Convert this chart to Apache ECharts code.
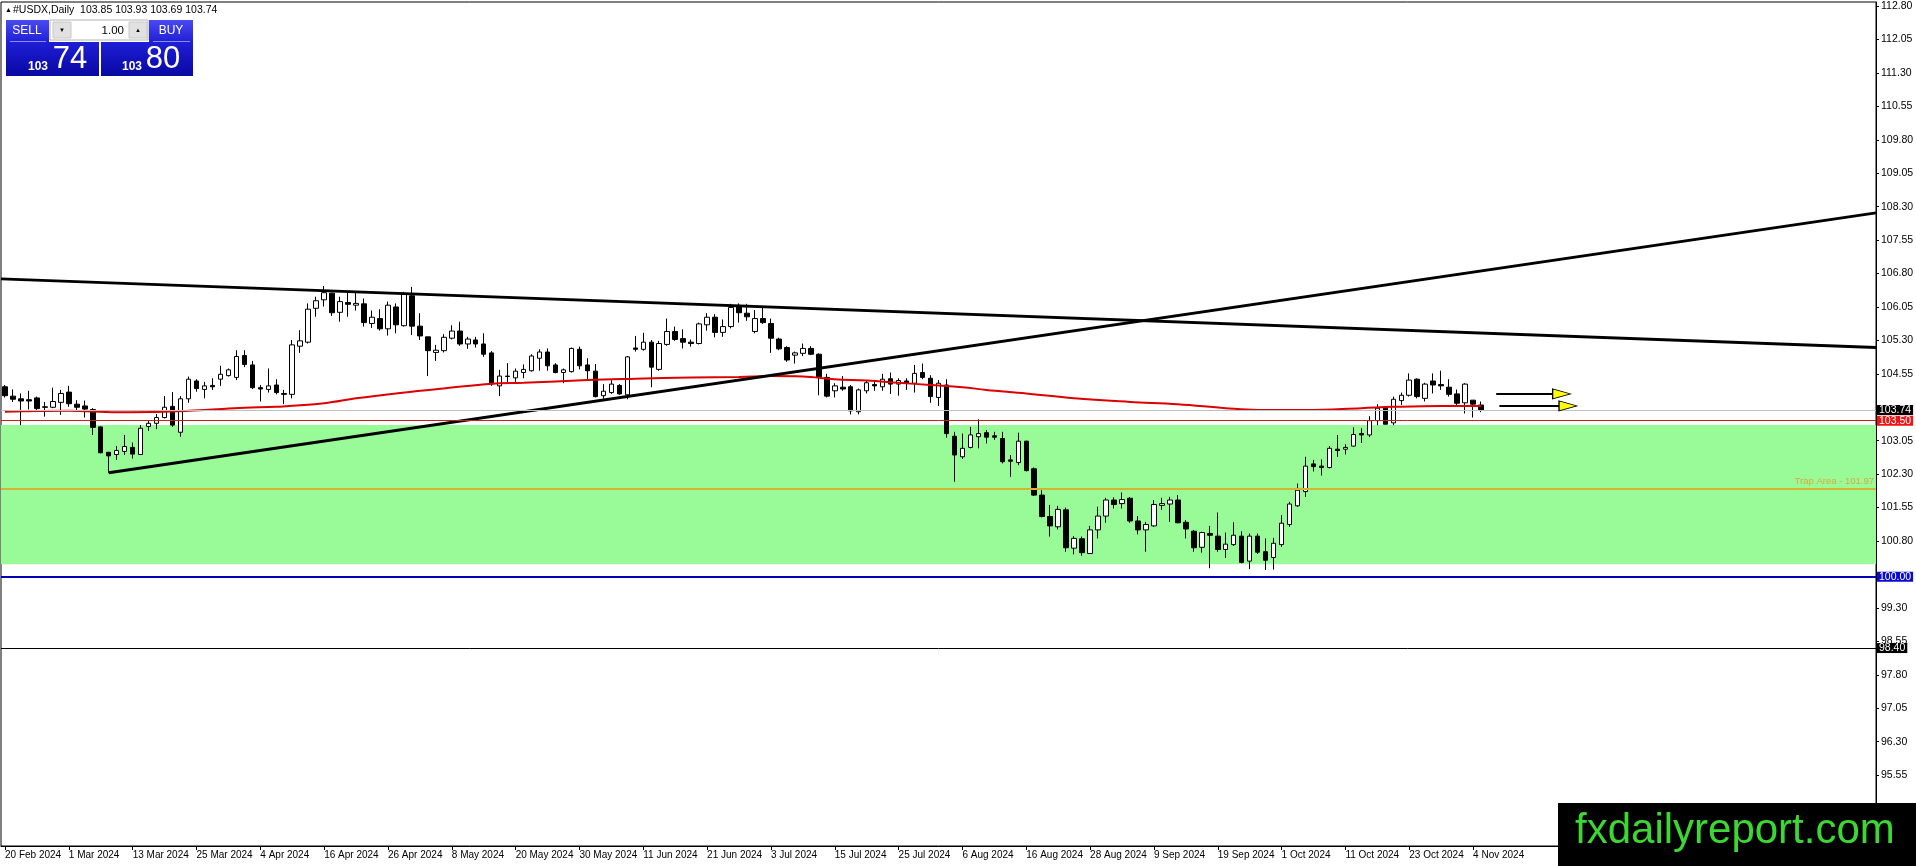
<!DOCTYPE html>
<html><head><meta charset="utf-8">
<script src="https://cdn.jsdelivr.net/npm/echarts@6/dist/echarts.min.js"></script>
<style>html,body{margin:0;padding:0;background:#fff}#c{width:1916px;height:866px}</style>
</head><body><div id="c"></div>
<script>
const FONT = '"Liberation Sans", Arial, sans-serif';

const dates = [
'20 Feb 2024','21 Feb 2024','22 Feb 2024','23 Feb 2024','26 Feb 2024','27 Feb 2024','28 Feb 2024','29 Feb 2024',
'1 Mar 2024','4 Mar 2024','5 Mar 2024','6 Mar 2024','7 Mar 2024','8 Mar 2024','11 Mar 2024','12 Mar 2024','13 Mar 2024','14 Mar 2024','15 Mar 2024','18 Mar 2024','19 Mar 2024','20 Mar 2024','21 Mar 2024','22 Mar 2024','25 Mar 2024','26 Mar 2024','27 Mar 2024','28 Mar 2024','29 Mar 2024',
'1 Apr 2024','2 Apr 2024','3 Apr 2024','4 Apr 2024','5 Apr 2024','8 Apr 2024','9 Apr 2024','10 Apr 2024','11 Apr 2024','12 Apr 2024','15 Apr 2024','16 Apr 2024','17 Apr 2024','18 Apr 2024','19 Apr 2024','22 Apr 2024','23 Apr 2024','24 Apr 2024','25 Apr 2024','26 Apr 2024','29 Apr 2024','30 Apr 2024',
'1 May 2024','2 May 2024','3 May 2024','6 May 2024','7 May 2024','8 May 2024','9 May 2024','10 May 2024','13 May 2024','14 May 2024','15 May 2024','16 May 2024','17 May 2024','20 May 2024','21 May 2024','22 May 2024','23 May 2024','24 May 2024','27 May 2024','28 May 2024','29 May 2024','30 May 2024','31 May 2024',
'3 Jun 2024','4 Jun 2024','5 Jun 2024','6 Jun 2024','7 Jun 2024','10 Jun 2024','11 Jun 2024','12 Jun 2024','13 Jun 2024','14 Jun 2024','17 Jun 2024','18 Jun 2024','19 Jun 2024','20 Jun 2024','21 Jun 2024','24 Jun 2024','25 Jun 2024','26 Jun 2024','27 Jun 2024','28 Jun 2024',
'1 Jul 2024','2 Jul 2024','3 Jul 2024','4 Jul 2024','5 Jul 2024','8 Jul 2024','9 Jul 2024','10 Jul 2024','11 Jul 2024','12 Jul 2024','15 Jul 2024','16 Jul 2024','17 Jul 2024','18 Jul 2024','19 Jul 2024','22 Jul 2024','23 Jul 2024','24 Jul 2024','25 Jul 2024','26 Jul 2024','29 Jul 2024','30 Jul 2024','31 Jul 2024',
'1 Aug 2024','2 Aug 2024','5 Aug 2024','6 Aug 2024','7 Aug 2024','8 Aug 2024','9 Aug 2024','12 Aug 2024','13 Aug 2024','14 Aug 2024','15 Aug 2024','16 Aug 2024','19 Aug 2024','20 Aug 2024','21 Aug 2024','22 Aug 2024','23 Aug 2024','26 Aug 2024','27 Aug 2024','28 Aug 2024','29 Aug 2024','30 Aug 2024',
'2 Sep 2024','3 Sep 2024','4 Sep 2024','5 Sep 2024','6 Sep 2024','9 Sep 2024','10 Sep 2024','11 Sep 2024','12 Sep 2024','13 Sep 2024','16 Sep 2024','17 Sep 2024','18 Sep 2024','19 Sep 2024','20 Sep 2024','23 Sep 2024','24 Sep 2024','25 Sep 2024','26 Sep 2024','27 Sep 2024','30 Sep 2024',
'1 Oct 2024','2 Oct 2024','3 Oct 2024','4 Oct 2024','7 Oct 2024','8 Oct 2024','9 Oct 2024','10 Oct 2024','11 Oct 2024','14 Oct 2024','15 Oct 2024','16 Oct 2024','17 Oct 2024','18 Oct 2024','21 Oct 2024','22 Oct 2024','23 Oct 2024','24 Oct 2024','25 Oct 2024','28 Oct 2024','29 Oct 2024','30 Oct 2024','31 Oct 2024',
'1 Nov 2024','4 Nov 2024','5 Nov 2024'
];

// [open, high, low, close]
const candles = [
[104.26,104.30,104.02,104.06],[104.05,104.20,103.92,103.98],[103.99,104.11,103.40,103.94],[103.97,104.17,103.75,103.94],
[104.01,104.04,103.74,103.77],[103.81,103.92,103.59,103.80],[103.80,104.24,103.78,103.93],[103.91,104.19,103.63,104.11],
[104.14,104.28,103.81,103.88],[103.87,103.96,103.70,103.80],[103.83,103.95,103.57,103.76],[103.75,103.78,103.18,103.35],
[103.36,103.37,102.77,102.78],[102.79,102.80,102.33,102.71],[102.74,102.93,102.62,102.83],[102.81,103.18,102.73,102.92],
[102.90,103.01,102.65,102.75],[102.74,103.40,102.73,103.33],[103.37,103.51,103.27,103.44],[103.44,103.65,103.31,103.57],
[103.57,104.05,103.55,103.80],[103.82,104.14,103.36,103.40],[103.24,104.05,103.14,103.99],[103.99,104.49,103.90,104.43],
[104.39,104.43,104.15,104.22],[104.20,104.37,104.00,104.28],[104.29,104.45,104.19,104.26],[104.43,104.73,104.28,104.54],
[104.51,104.67,104.49,104.64],[104.47,105.08,104.41,104.94],[104.96,105.08,104.70,104.76],[104.75,104.84,104.21,104.24],
[104.24,104.30,103.93,104.21],[104.20,104.67,104.13,104.28],[104.30,104.43,104.09,104.13],[104.11,104.19,103.87,104.09],
[104.09,105.31,104.00,105.20],[105.17,105.53,105.02,105.29],[105.26,106.13,105.23,106.00],[106.02,106.28,105.83,106.19],
[106.21,106.52,106.06,106.37],[106.36,106.37,105.85,105.92],[105.93,106.28,105.72,106.17],[106.15,106.37,105.83,106.11],
[106.09,106.37,105.97,106.13],[106.12,106.24,105.61,105.70],[105.68,105.97,105.58,105.82],[105.79,106.00,105.52,105.56],
[105.56,106.17,105.41,106.09],[106.05,106.13,105.46,105.65],[105.63,106.39,105.61,106.33],[106.30,106.50,105.42,105.62],
[105.62,105.91,105.31,105.40],[105.38,105.38,104.50,105.07],[105.03,105.20,104.84,105.08],[105.07,105.44,105.03,105.37],
[105.35,105.64,105.32,105.51],[105.51,105.72,105.18,105.22],[105.22,105.38,105.11,105.33],[105.31,105.38,105.14,105.22],
[105.22,105.46,104.93,104.99],[105.02,105.06,104.28,104.32],[104.28,104.64,104.05,104.50],[104.49,104.79,104.37,104.50],
[104.46,104.67,104.37,104.61],[104.58,104.76,104.45,104.65],[104.62,104.99,104.60,104.95],[104.90,105.10,104.62,105.04],
[105.04,105.12,104.62,104.73],[104.75,104.79,104.56,104.58],[104.58,104.67,104.34,104.64],[104.60,105.14,104.58,105.12],
[105.10,105.16,104.65,104.73],[104.75,104.90,104.39,104.62],[104.61,104.77,104.02,104.04],[104.06,104.32,103.99,104.16],
[104.13,104.41,104.10,104.32],[104.29,104.32,104.08,104.10],[104.08,104.95,103.98,104.93],[105.13,105.40,105.05,105.10],
[105.10,105.47,105.07,105.26],[105.26,105.31,104.25,104.70],[104.65,105.29,104.62,105.23],[105.21,105.79,105.18,105.50],
[105.50,105.61,105.29,105.32],[105.34,105.55,105.12,105.26],[105.26,105.32,105.16,105.23],[105.23,105.70,105.21,105.67],
[105.65,105.91,105.52,105.82],[105.82,105.89,105.37,105.48],[105.48,105.77,105.38,105.61],[105.61,106.12,105.57,106.04],
[106.07,106.13,105.70,105.92],[105.91,106.12,105.74,105.83],[105.50,105.98,105.46,105.79],[105.79,106.04,105.67,105.70],
[105.68,105.79,105.02,105.35],[105.33,105.36,105.08,105.11],[105.14,105.17,104.82,104.86],[104.97,105.05,104.78,105.02],
[105.01,105.23,104.95,105.12],[105.12,105.17,104.97,104.99],[104.99,105.01,104.07,104.47],[104.47,104.55,104.02,104.05],
[104.17,104.34,104.02,104.28],[104.25,104.50,104.17,104.21],[104.26,104.30,103.64,103.72],[103.70,104.22,103.64,104.19],
[104.17,104.41,104.11,104.35],[104.31,104.40,104.17,104.28],[104.26,104.55,104.17,104.43],[104.44,104.58,104.10,104.32],
[104.32,104.45,104.06,104.40],[104.39,104.45,104.19,104.34],[104.34,104.75,104.13,104.56],[104.58,104.78,104.43,104.47],
[104.45,104.52,103.90,104.04],[104.02,104.41,103.83,104.34],[104.30,104.43,103.12,103.21],[103.15,103.25,102.13,102.73],
[102.69,103.21,102.64,102.88],[102.90,103.36,102.88,103.18],[103.14,103.53,102.88,103.21],[103.23,103.29,102.99,103.13],
[103.16,103.25,103.07,103.13],[103.10,103.25,102.54,102.58],[102.62,102.73,102.24,102.59],[102.56,103.23,102.50,103.04],
[103.04,103.05,102.36,102.38],[102.42,102.45,101.81,101.83],[101.83,101.94,101.33,101.35],[101.35,101.61,100.90,101.14],
[101.12,101.59,101.06,101.51],[101.50,101.55,100.56,100.65],[100.64,100.91,100.50,100.86],[100.85,100.90,100.47,100.54],
[100.52,101.14,100.51,101.05],[101.05,101.57,100.86,101.36],[101.36,101.77,101.21,101.72],[101.72,101.78,101.53,101.62],
[101.64,101.89,101.53,101.73],[101.76,101.79,101.21,101.25],[101.25,101.36,100.95,101.05],[101.05,101.23,100.56,101.17],
[101.14,101.72,101.12,101.62],[101.60,101.77,101.50,101.64],[101.63,101.79,101.23,101.72],[101.72,101.83,101.20,101.21],
[101.22,101.27,100.86,101.07],[101.02,101.05,100.56,100.65],[100.66,101.01,100.54,100.99],[100.97,101.14,100.19,100.93],
[100.91,101.44,100.56,100.61],[100.61,100.99,100.42,100.73],[100.72,101.22,100.69,100.93],[100.91,101.02,100.30,100.32],
[100.35,100.97,100.17,100.91],[100.91,100.97,100.51,100.55],[100.56,100.86,100.15,100.37],[100.43,100.87,100.16,100.75],
[100.72,101.38,100.67,101.20],[101.17,101.68,101.12,101.63],[101.59,102.09,101.57,101.94],[101.91,102.69,101.79,102.48],
[102.53,102.62,102.36,102.47],[102.48,102.63,102.27,102.45],[102.45,102.93,102.43,102.88],[102.86,103.18,102.69,102.83],
[102.86,102.97,102.74,102.90],[102.93,103.35,102.92,103.19],[103.21,103.33,103.00,103.18],[103.18,103.60,103.13,103.50],
[103.50,103.87,103.40,103.78],[103.78,103.80,103.42,103.42],[103.45,104.04,103.40,103.98],[103.95,104.13,103.85,104.07],
[104.07,104.56,104.04,104.41],[104.43,104.45,104.00,104.04],[104.00,104.35,103.93,104.32],[104.39,104.56,104.11,104.30],
[104.31,104.62,104.19,104.28],[104.25,104.43,104.04,104.09],[104.10,104.20,103.83,103.89],[103.90,104.34,103.66,104.32],
[103.96,103.96,103.57,103.87],[103.85,103.93,103.69,103.74]
];

// moving average read at bar indices [index, value]
const maPoints = [[0,103.70],[8,103.72],[14,103.69],[20,103.70],[25,103.74],[30,103.79],[34,103.81],[40,103.89],[44,104.00],[49,104.11],[55,104.22],[61,104.33],[65,104.35],[73,104.41],[79,104.44],[86,104.47],[92,104.48],[96,104.50],[100,104.49],[104,104.43],[108,104.40],[112,104.35],[116,104.30],[120,104.25],[123,104.19],[128,104.11],[134,104.00],[141,103.92],[147,103.87],[153,103.78],[157,103.74],[163,103.74],[170,103.78],[174,103.81],[180,103.83],[185,103.83]];

// all price ticks, and the labels that show (the rest sit under price tags)
const priceTicks = [94.05,94.80,95.55,96.30,97.05,97.80,98.55,99.30,100.05,100.80,101.55,102.30,103.05,103.80,104.55,105.30,106.05,106.80,107.55,108.30,109.05,109.80,110.55,111.30,112.05,112.80];
const priceLabels = [94.05,94.80,95.55,96.30,97.05,97.80,98.55,99.30,100.80,101.55,102.30,103.05,104.55,105.30,106.05,106.80,107.55,108.30,109.05,109.80,110.55,111.30,112.05,112.80];

const descTrend = [[-0.5,106.68],[234.5,105.14]];
const ascTrend = [[13,102.33],[234.5,108.16]];
const arrowA = [[186.9,104.10],[194.6,104.10]];
const arrowB = [[187.3,103.83],[195.3,103.83]];
const arrowHeads = [[195.1,104.10],[195.9,103.83]];
const trapZone = [100.28, 103.40];
const trapLevel = 101.97;
const bidPrice = 103.74;
const redLevel = 103.50;
const blueLevel = 100.00;
const blackLevel = 98.40;
const padCount = 49;

const categories = dates.concat(Array.from({length: padCount}, (_, i) => 'pad' + i));
const showIdx = (idx) => idx % 8 === 0 && idx < dates.length;

function tag(bg) {
  return {show: true, position: 'end', distance: 1, formatter: p => p.value.toFixed(2),
    color: '#fff', backgroundColor: bg, padding: [0, 2, 0, 2], lineHeight: 10,
    fontSize: 10.5, fontFamily: FONT};
}

const chart = echarts.init(document.getElementById('c'), null, {renderer: 'canvas'});
const grad = new echarts.graphic.LinearGradient(0, 0, 0, 1, [
  {offset: 0, color: '#4a4af2'}, {offset: 0.4, color: '#1e1ed6'}, {offset: 1, color: '#0808a2'}]);

chart.setOption({
  animation: false,
  backgroundColor: '#fff',
  grid: {left: 1, top: 2, right: 40, bottom: 20, containLabel: false, outerBoundsMode: 'none',
    show: true, borderColor: '#000', borderWidth: 1},
  xAxis: [{
    type: 'category', data: categories, boundaryGap: true,
    axisLine: {show: true, onZero: false, lineStyle: {color: '#000', width: 1}},
    axisTick: {show: true, interval: showIdx, alignWithLabel: true, length: 4, lineStyle: {color: '#000'}},
    axisLabel: {interval: showIdx, align: 'left', margin: 4, fontSize: 10, color: '#000', fontFamily: FONT,
      formatter: v => v.startsWith('pad') ? '' : v},
    splitLine: {show: false}
  }, {
    type: 'value', min: -0.5, max: 234.5, show: false, splitLine: {show: false},
    axisLine: {show: false, onZero: false}
  }],
  yAxis: {
    type: 'value', position: 'right', min: 93.96, max: 112.89, scale: true,
    splitLine: {show: false},
    axisLine: {show: true, onZero: false, lineStyle: {color: '#000', width: 1}},
    axisTick: {show: true, customValues: priceTicks, length: 3, lineStyle: {color: '#000'}},
    axisLabel: {customValues: priceLabels, formatter: v => v.toFixed(2), fontSize: 10.5, color: '#000',
      margin: 5, fontFamily: FONT}
  },
  series: [{
    type: 'candlestick', xAxisIndex: 0, yAxisIndex: 0, z: 2,
    data: candles.map(([o, h, l, c]) => [o, c, l, h]),
    barWidth: 5,
    itemStyle: {color: '#fff', color0: '#000', borderColor: '#000', borderColor0: '#000',
      borderColorDoji: '#000', borderWidth: 1},
    markArea: {silent: true, itemStyle: {color: '#98fb98', opacity: 1},
      data: [[{yAxis: trapZone[1]}, {yAxis: trapZone[0]}]]},
    markLine: {silent: true, symbol: ['none', 'none'], animation: false,
      data: [
        {yAxis: blackLevel, lineStyle: {color: '#000', width: 1, type: 'solid'}, label: tag('#000')},
        {yAxis: blueLevel, lineStyle: {color: '#0000b4', width: 2, type: 'solid'}, label: tag('#0a0ad2')},
        {yAxis: trapLevel, lineStyle: {color: '#d6b432', width: 2, type: 'solid'},
          label: {show: true, position: 'insideEndTop', distance: 2, formatter: 'Trap Area - 101.97',
            color: '#dca83a', fontSize: 9.5, fontFamily: FONT}},
        {yAxis: redLevel, lineStyle: {color: '#cc1e1e', width: 1, type: 'solid'}, label: tag('#f01414')},
        {yAxis: bidPrice, lineStyle: {color: '#c0c0c0', width: 1, type: 'solid'}, label: tag('#000')}
      ]}
  }, {
    type: 'line', xAxisIndex: 1, yAxisIndex: 0, z: 3, data: maPoints, smooth: 0.4,
    showSymbol: false, symbol: 'none', lineStyle: {color: '#dd0000', width: 2}
  }, {
    type: 'line', xAxisIndex: 1, yAxisIndex: 0, z: 4, data: descTrend, symbol: 'none',
    lineStyle: {color: '#000', width: 3}
  }, {
    type: 'line', xAxisIndex: 1, yAxisIndex: 0, z: 4, data: ascTrend, symbol: 'none',
    lineStyle: {color: '#000', width: 3}
  }, {
    type: 'line', xAxisIndex: 1, yAxisIndex: 0, z: 4, data: arrowA, symbol: 'none',
    lineStyle: {color: '#000', width: 2}
  }, {
    type: 'line', xAxisIndex: 1, yAxisIndex: 0, z: 4, data: arrowB, symbol: 'none',
    lineStyle: {color: '#000', width: 2}
  }, {
    type: 'scatter', xAxisIndex: 1, yAxisIndex: 0, z: 6, data: arrowHeads, symbol: 'triangle',
    symbolRotate: -90, symbolSize: [10, 18],
    itemStyle: {color: '#ffff00', borderColor: '#000', borderWidth: 1, opacity: 1}
  }],
  graphic: {elements: [
    {type: 'text', x: 5, y: 10, z: 100, style: {text: '▲', fontSize: 7, fill: '#000', fontFamily: FONT,
      align: 'left', verticalAlign: 'middle', textAlign: 'left', textVerticalAlign: 'middle'}},
    {type: 'text', x: 13, y: 10, z: 100, style: {text: '#USDX,Daily  103.85 103.93 103.69 103.74',
      fontSize: 10.5, fill: '#000', fontFamily: FONT,
      align: 'left', verticalAlign: 'middle', textAlign: 'left', textVerticalAlign: 'middle'}},
    {type: 'polygon', z: 100, shape: {points: [[6,20],[49,20],[49,42],[99,42],[99,76],[6,76]]}, style: {fill: grad}},
    {type: 'polygon', z: 100, shape: {points: [[149,20],[193,20],[193,76],[101,76],[101,42],[149,42]]}, style: {fill: grad}},
    {type: 'rect', z: 100, shape: {x: 50, y: 20, width: 98, height: 20}, style: {fill: '#fff', stroke: '#b4b4b4', lineWidth: 1}},
    {type: 'rect', z: 101, shape: {x: 53, y: 22, width: 18, height: 16}, style: {fill: '#e1e1e1', stroke: '#c8c8c8', lineWidth: 1}},
    {type: 'rect', z: 101, shape: {x: 129, y: 22, width: 18, height: 16}, style: {fill: '#e1e1e1', stroke: '#c8c8c8', lineWidth: 1}},
    {type: 'text', x: 62, y: 30, z: 102, style: {text: '▼', fontSize: 6, fill: '#000', fontFamily: FONT,
      align: 'center', verticalAlign: 'middle', textAlign: 'center', textVerticalAlign: 'middle'}},
    {type: 'text', x: 138, y: 30, z: 102, style: {text: '▲', fontSize: 6, fill: '#000', fontFamily: FONT,
      align: 'center', verticalAlign: 'middle', textAlign: 'center', textVerticalAlign: 'middle'}},
    {type: 'text', x: 124, y: 31, z: 102, style: {text: '1.00', fontSize: 11.5, fill: '#000', fontFamily: FONT,
      align: 'right', verticalAlign: 'middle', textAlign: 'right', textVerticalAlign: 'middle'}},
    {type: 'line', z: 101, shape: {x1: 10, y1: 41.5, x2: 46, y2: 41.5}, style: {stroke: '#8c8cf0', lineWidth: 1}},
    {type: 'line', z: 101, shape: {x1: 153, y1: 41.5, x2: 190, y2: 41.5}, style: {stroke: '#8c8cf0', lineWidth: 1}},
    {type: 'text', x: 27, y: 31, z: 102, style: {text: 'SELL', fontSize: 12, fill: '#fff', fontFamily: FONT,
      align: 'center', verticalAlign: 'middle', textAlign: 'center', textVerticalAlign: 'middle'}},
    {type: 'text', x: 171, y: 31, z: 102, style: {text: 'BUY', fontSize: 12, fill: '#fff', fontFamily: FONT,
      align: 'center', verticalAlign: 'middle', textAlign: 'center', textVerticalAlign: 'middle'}},
    {type: 'text', x: 38, y: 67, z: 102, style: {text: '103', fontSize: 12, fontWeight: 'bold', fill: '#fff', fontFamily: FONT,
      align: 'center', verticalAlign: 'middle', textAlign: 'center', textVerticalAlign: 'middle'}},
    {type: 'text', x: 70, y: 59, z: 102, style: {text: '74', fontSize: 31, fill: '#fff', fontFamily: FONT,
      align: 'center', verticalAlign: 'middle', textAlign: 'center', textVerticalAlign: 'middle'}},
    {type: 'text', x: 132, y: 67, z: 102, style: {text: '103', fontSize: 12, fontWeight: 'bold', fill: '#fff', fontFamily: FONT,
      align: 'center', verticalAlign: 'middle', textAlign: 'center', textVerticalAlign: 'middle'}},
    {type: 'text', x: 163, y: 59, z: 102, style: {text: '80', fontSize: 31, fill: '#fff', fontFamily: FONT,
      align: 'center', verticalAlign: 'middle', textAlign: 'center', textVerticalAlign: 'middle'}},
    {type: 'rect', z: 100, shape: {x: 1558, y: 803, width: 358, height: 63}, style: {fill: '#000'}},
    {type: 'text', x: 1575, y: 831, z: 101, style: {text: 'fxdailyreport.com', fontSize: 42, fill: '#3cd732', fontFamily: FONT,
      align: 'left', verticalAlign: 'middle', textAlign: 'left', textVerticalAlign: 'middle'}}
  ]}
});
</script></body></html>
